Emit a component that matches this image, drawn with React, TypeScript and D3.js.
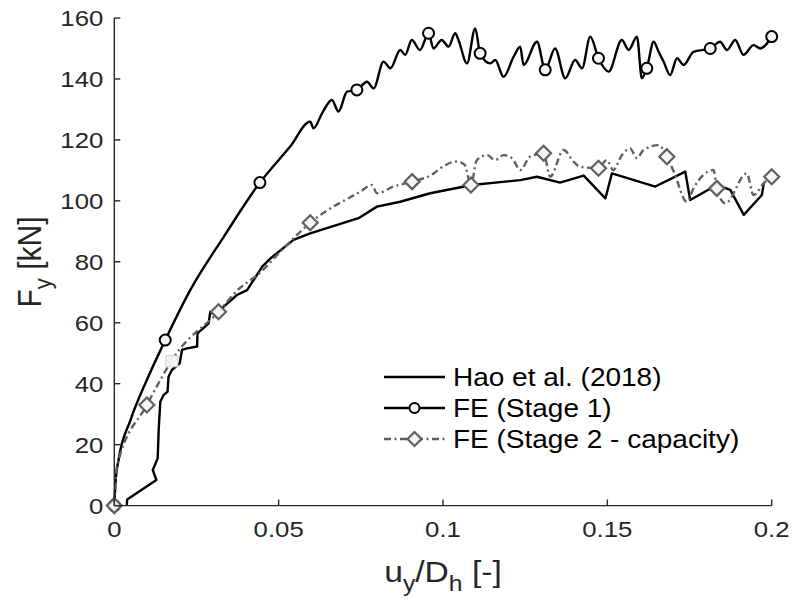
import React from "react";
import * as d3 from "d3";

// ---------- data ----------
const xTicks = [0, 0.05, 0.1, 0.15, 0.2];
const xTickLabels = ["0", "0.05", "0.1", "0.15", "0.2"];
const yTicks = [0, 20, 40, 60, 80, 100, 120, 140, 160];

const haoU = [0.0038, 0.0039, 0.0128, 0.0117, 0.0132, 0.0135, 0.014, 0.015, 0.0162, 0.0165, 0.0175, 0.0199, 0.0206, 0.0221, 0.0252, 0.0253, 0.0287, 0.0292, 0.0307, 0.0333, 0.0373, 0.0404, 0.045, 0.0475, 0.0545, 0.0596, 0.0743, 0.0799, 0.087, 0.0961, 0.1088, 0.1235, 0.1286, 0.1356, 0.1428, 0.1494, 0.1514, 0.1646, 0.1737, 0.1752, 0.1833, 0.1874, 0.1915, 0.197, 0.1976];
const haoF = [0, 2, 8.4, 11.7, 15.5, 24.8, 34.1, 36.3, 37.4, 42.3, 44.5, 46.7, 51.1, 51.6, 52.2, 56.5, 59.8, 63.6, 62.5, 65.3, 69.1, 70.7, 78.4, 81.1, 87.2, 89.3, 94.3, 98.1, 99.7, 102.5, 105.2, 106.8, 107.9, 106, 108.3, 100.8, 109, 104.7, 109.6, 100.3, 105.2, 103.6, 95.4, 101.9, 105.8];

const s1U = [0, 0.0004, 0.0013, 0.0049, 0.0099, 0.0155, 0.0231, 0.0333, 0.0443, 0.0535, 0.0596, 0.0606, 0.0632, 0.0662, 0.0682, 0.0708, 0.0738, 0.0769, 0.0789, 0.0819, 0.084, 0.087, 0.0885, 0.0905, 0.093, 0.0956, 0.0971, 0.0996, 0.1017, 0.1037, 0.1047, 0.1073, 0.1098, 0.1113, 0.1144, 0.1159, 0.1184, 0.1215, 0.1235, 0.1245, 0.1286, 0.1311, 0.1341, 0.1372, 0.1402, 0.1423, 0.1448, 0.1473, 0.1504, 0.1544, 0.1565, 0.159, 0.1605, 0.162, 0.1641, 0.1656, 0.1671, 0.1691, 0.1712, 0.1732, 0.1762, 0.1813, 0.1843, 0.1864, 0.1889, 0.1914, 0.1945, 0.1965, 0.2];
const s1F = [0, 8, 15, 28, 41.2, 54.3, 70.7, 88.2, 106, 117.8, 126, 123.8, 128.7, 133.1, 129.3, 135.8, 136.4, 139.1, 136.9, 145.7, 143.5, 149.5, 147.9, 152.8, 149.5, 155, 150, 152.8, 150.6, 155, 152.8, 145.1, 156.6, 148.4, 145.1, 146.2, 140.7, 147.3, 150.6, 144.6, 152.2, 143, 150, 140.2, 146.2, 143.5, 153.9, 146.8, 142.4, 152.8, 149.5, 153.9, 140.2, 143.5, 152.2, 148.9, 145.7, 141.3, 146.8, 144.6, 148.9, 150, 152.2, 149.5, 152.8, 147.9, 151.1, 150, 153.9];
const s1MarkU = [0, 0.0155, 0.0443, 0.0738, 0.0956, 0.1113, 0.1311, 0.1473, 0.162, 0.1813, 0.2];
const s1MarkF = [0, 54.3, 106, 136.4, 155, 148.4, 143, 146.8, 143.5, 150, 153.9];

const s2U = [0, 0.0008, 0.0099, 0.019, 0.0317, 0.0373, 0.0444, 0.052, 0.0596, 0.0748, 0.0784, 0.0799, 0.085, 0.0906, 0.0972, 0.0992, 0.1042, 0.1066, 0.1085, 0.1103, 0.1134, 0.1159, 0.1184, 0.121, 0.1235, 0.1265, 0.1306, 0.1326, 0.1367, 0.1397, 0.1417, 0.1473, 0.1498, 0.1518, 0.1544, 0.1569, 0.159, 0.161, 0.1656, 0.1681, 0.1702, 0.1742, 0.1762, 0.1823, 0.1833, 0.1859, 0.1924, 0.1945, 0.1976, 0.2];
const s2F = [0, 12.8, 33, 50, 63.6, 70.5, 76.5, 85, 92.8, 103, 105.2, 102.5, 104.7, 106.3, 109, 110.7, 112.9, 111.8, 105.2, 113.4, 115, 113.4, 115, 114, 110.1, 114.5, 115.6, 107.9, 116.7, 112.9, 111.2, 110.7, 113.4, 110.1, 115, 117.2, 114, 116.7, 118.3, 114.5, 109.6, 99.7, 104.1, 110.1, 104.1, 99.2, 109, 101.9, 105.8, 107.9];
const s2MarkU = [0, 0.0099, 0.0317, 0.0596, 0.0906, 0.1085, 0.1306, 0.1473, 0.1681, 0.1833, 0.2];
const s2MarkF = [0, 33, 63.6, 92.8, 106.3, 105.2, 115.6, 110.7, 114.5, 104.1, 107.9];

const ghostU = [0.0175];
const ghostF = [47.2];

const legendLabels = ["Hao et al. (2018)", "FE (Stage 1)", "FE (Stage 2 - capacity)"];

// ---------- layout ----------
const W = 795;
const H = 604;
const X0 = 114.3;
const X1 = 771.7;
const Y0 = 505.6;
const Y1 = 18;
const AX = "#262626";
const GRAY = "#606060";
const FONT = "'Liberation Sans', Arial, Helvetica, sans-serif";
const SX = 1.12;

export default function App() {
  const x = d3.scaleLinear().domain([0, 0.2]).range([X0, X1]);
  const y = d3.scaleLinear().domain([0, 160]).range([Y0, Y1]);

  const zip = (u: number[], f: number[]) => u.map((v, i) => [v, f[i]] as [number, number]);
  const linear = d3.line<[number, number]>().x((d) => x(d[0])).y((d) => y(d[1]));
  const smooth = d3
    .line<[number, number]>()
    .x((d) => x(d[0]))
    .y((d) => y(d[1]))
    .curve(d3.curveMonotoneX);

  const hao = zip(haoU, haoF);
  const s1 = zip(s1U, s1F);
  const s2 = zip(s2U, s2F);
  const s1m = zip(s1MarkU, s1MarkF);
  const s2m = zip(s2MarkU, s2MarkF);
  const ghost = zip(ghostU, ghostF);

  const dia = (cx: number, cy: number, r: number) =>
    `M${cx},${cy - r}L${cx + r},${cy}L${cx},${cy + r}L${cx - r},${cy}Z`;

  const dash = "7,3.5,2,3.5";
  const legY = [377, 408, 439];
  const legX0 = 384;
  const legX1 = 445;
  const legMid = (legX0 + legX1) / 2;

  return (
    <svg
      width={W}
      height={H}
      style={{ position: "absolute", left: 0, top: 0, background: "#fff" }}
      fontFamily={FONT}
    >
      {/* data lines */}
      <path d={linear(hao) || ""} fill="none" stroke="#000" strokeWidth={2.4} strokeLinejoin="round" />
      <path d={smooth(s1) || ""} fill="none" stroke="#000" strokeWidth={2.4} strokeLinejoin="round" />
      <path
        d={smooth(s2) || ""}
        fill="none"
        stroke={GRAY}
        strokeWidth={2.4}
        strokeDasharray={dash}
        strokeLinejoin="round"
      />

      {/* markers */}
      {ghost.map((d, i) => (
        <rect key={"g" + i} x={x(d[0]) - 6} y={y(d[1]) - 6} width={12} height={11} fill="#f2f2f2" stroke="#d0d0d0" strokeWidth={1} />
      ))}
      {s1m.map((d, i) => (
        <circle key={"c" + i} cx={x(d[0])} cy={y(d[1])} r={5.5} fill="#f4f4f4" stroke="#000" strokeWidth={2} />
      ))}
      {s2m.map((d, i) => (
        <path key={"d" + i} d={dia(x(d[0]), y(d[1]), 7.5)} fill="#f4f4f4" stroke={GRAY} strokeWidth={2.2} />
      ))}

      {/* axes */}
      <line x1={X0} x2={X0} y1={Y1} y2={Y0} stroke={AX} strokeWidth={1.4} />
      <line x1={X0} x2={X1} y1={Y0} y2={Y0} stroke={AX} strokeWidth={1.4} />
      {yTicks.map((t) => (
        <g key={"yt" + t}>
          <line x1={X0} x2={X0 + 6} y1={y(t)} y2={y(t)} stroke={AX} strokeWidth={1.4} />
          <g transform={`translate(${X0 - 11},${y(t) + 8}) scale(${SX},1)`}>
            <text textAnchor="end" fontSize={23} fill={AX}>
              {t}
            </text>
          </g>
        </g>
      ))}
      {xTicks.map((t, i) => (
        <g key={"xt" + i}>
          <line x1={x(t)} x2={x(t)} y1={Y0} y2={Y0 - 6} stroke={AX} strokeWidth={1.4} />
          <g transform={`translate(${x(t)},${537}) scale(${SX},1)`}>
            <text textAnchor="middle" fontSize={23} fill={AX}>
              {xTickLabels[i]}
            </text>
          </g>
        </g>
      ))}

      {/* axis labels */}
      <g transform={`translate(${(X0 + X1) / 2},582) scale(${SX},1)`}>
        <text textAnchor="middle" fontSize={30} fill={AX}>
          u<tspan fontSize={22} dy={9}>y</tspan>
          <tspan dy={-9}>/D</tspan>
          <tspan fontSize={22} dy={9}>h</tspan>
          <tspan dy={-9}> [-]</tspan>
        </text>
      </g>
      <g transform={`translate(41,262) scale(${SX},1) rotate(-90)`}>
        <text textAnchor="middle" fontSize={30} fill={AX}>
          F<tspan fontSize={22} dy={9}>y</tspan>
          <tspan dy={-9}> [kN]</tspan>
        </text>
      </g>

      {/* legend */}
      <line x1={legX0} x2={legX1} y1={legY[0]} y2={legY[0]} stroke="#000" strokeWidth={2.4} />
      <line x1={legX0} x2={legX1} y1={legY[1]} y2={legY[1]} stroke="#000" strokeWidth={2.4} />
      <circle cx={legMid} cy={legY[1]} r={5} fill="#f4f4f4" stroke="#000" strokeWidth={2} />
      <line x1={legX0} x2={legX1} y1={legY[2]} y2={legY[2]} stroke={GRAY} strokeWidth={2.4} strokeDasharray={dash} />
      <path d={dia(legMid, legY[2], 7)} fill="#f4f4f4" stroke={GRAY} strokeWidth={2.2} />
      {legendLabels.map((l, i) => (
        <g key={"lg" + i} transform={`translate(453,${legY[i] + 9}) scale(${SX},1)`}>
          <text fontSize={25} fill="#000">
            {l}
          </text>
        </g>
      ))}
    </svg>
  );
}
